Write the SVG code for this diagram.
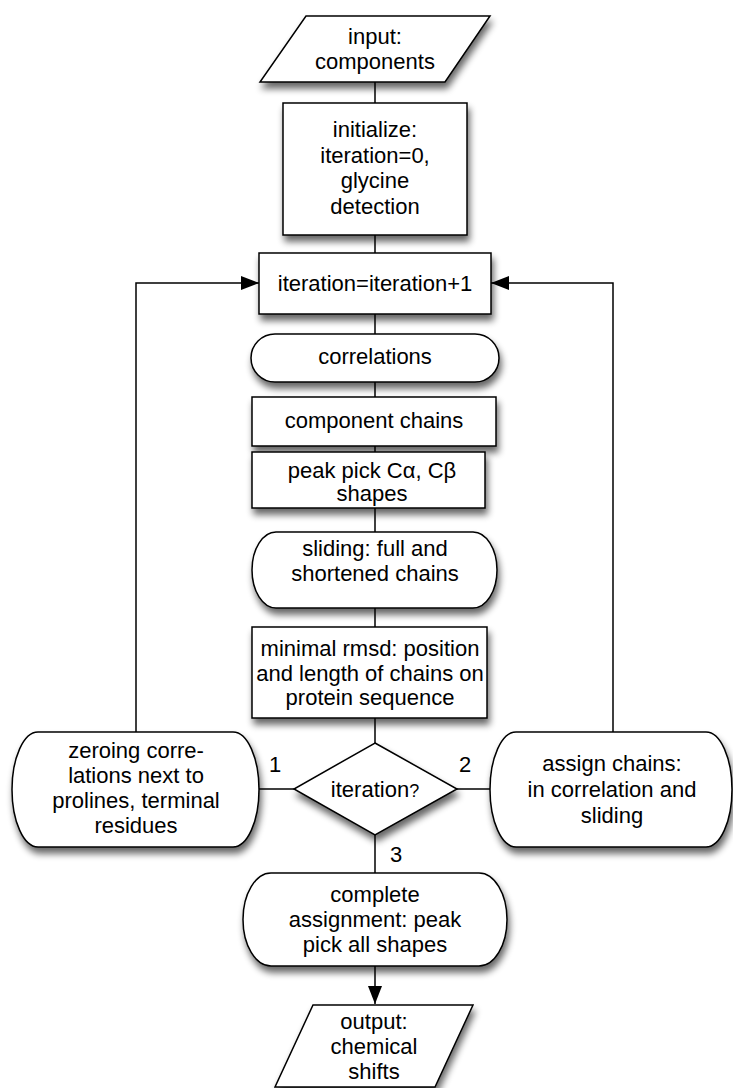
<svg xmlns="http://www.w3.org/2000/svg" width="733" height="1088" viewBox="0 0 733 1088">
  <defs>
    <filter id="shadow" x="-20%" y="-20%" width="140%" height="150%">
      <feGaussianBlur in="SourceAlpha" stdDeviation="3.5"/>
      <feOffset dx="2" dy="6" result="blur"/>
      <feComponentTransfer>
        <feFuncA type="linear" slope="0.6"/>
      </feComponentTransfer>
      <feMerge>
        <feMergeNode/>
        <feMergeNode in="SourceGraphic"/>
      </feMerge>
    </filter>
    <marker id="arrow" markerUnits="userSpaceOnUse" markerWidth="18" markerHeight="14" refX="18" refY="7" orient="auto">
      <path d="M0,0 L18,7 L0,14 Z" fill="#000"/>
    </marker>
    <style>
      .shape { fill: #fff; stroke: #000; stroke-width: 1.5; filter: url(#shadow); }
      .link { fill: none; stroke: #000; stroke-width: 1.5; }
      text { font-family: "Liberation Sans", Arial, Helvetica, sans-serif; font-size: 22px; fill: #000; text-anchor: middle; }
      .q { font-size: 18px; }
    </style>
  </defs>
  <rect width="733" height="1088" fill="#fff"/>

  <!-- connectors -->
  <g id="connectors">
    <line class="link" x1="375" y1="82" x2="375" y2="103"/>
    <line class="link" x1="375" y1="235" x2="375" y2="253"/>
    <line class="link" x1="375" y1="314" x2="375" y2="334"/>
    <line class="link" x1="375" y1="382" x2="375" y2="397"/>
    <line class="link" x1="375" y1="446" x2="375" y2="452"/>
    <line class="link" x1="375" y1="508" x2="375" y2="532"/>
    <line class="link" x1="375" y1="608" x2="375" y2="627"/>
    <line class="link" x1="375" y1="718" x2="375" y2="743"/>
    <line class="link" x1="375" y1="835" x2="375" y2="873"/>
    <line class="link" x1="375" y1="966" x2="375" y2="1004" marker-end="url(#arrow)"/>
    <line class="link" x1="259" y1="789" x2="294" y2="789"/>
    <line class="link" x1="457" y1="789" x2="490" y2="789"/>
    <polyline class="link" points="136,732 136,283 259,283" marker-end="url(#arrow)"/>
    <polyline class="link" points="613,732 613,283 491,283" marker-end="url(#arrow)"/>
    <text x="275" y="772">1</text>
    <text x="465" y="772">2</text>
    <text x="396" y="862">3</text>
  </g>

  <g id="input">
    <polygon class="shape" points="306,16 490,16 445,82 260,82"/>
    <text x="375" y="44">input:</text>
    <text x="375" y="69">components</text>
  </g>

  <g id="initialize">
    <rect class="shape" x="283" y="103" width="184" height="132"/>
    <text x="375" y="137">initialize:</text>
    <text x="375" y="163">iteration=0,</text>
    <text x="375" y="188">glycine</text>
    <text x="375" y="214">detection</text>
  </g>

  <g id="increment">
    <rect class="shape" x="259" y="253" width="232" height="61"/>
    <text x="375" y="291">iteration=iteration+1</text>
  </g>

  <g id="correlations">
    <rect class="shape" x="251" y="334" width="248" height="48" rx="24" ry="24"/>
    <text x="375" y="364">correlations</text>
  </g>

  <g id="component-chains">
    <rect class="shape" x="252" y="397" width="244" height="49"/>
    <text x="374" y="428">component chains</text>
  </g>

  <g id="peak-pick">
    <rect class="shape" x="252" y="452" width="233" height="56"/>
    <text x="372" y="478">peak pick Cα, Cβ</text>
    <text x="372" y="501">shapes</text>
  </g>

  <g id="sliding">
    <rect class="shape" x="252" y="532" width="245" height="76" rx="24" ry="38"/>
    <text x="375" y="556">sliding: full and</text>
    <text x="375" y="581">shortened chains</text>
  </g>

  <g id="rmsd">
    <rect class="shape" x="252" y="627" width="235" height="91"/>
    <text x="370" y="656">minimal rmsd: position</text>
    <text x="370" y="681">and length of chains on</text>
    <text x="370" y="705">protein sequence</text>
  </g>

  <g id="decision">
    <polygon class="shape" points="375,743 457,789 375,835 294,789"/>
    <text x="375" y="797">iteration<tspan class="q">?</tspan></text>
  </g>

  <g id="zeroing">
    <rect class="shape" x="12" y="732" width="247" height="115" rx="26" ry="57.5"/>
    <text x="136" y="758">zeroing corre-</text>
    <text x="136" y="783">lations next to</text>
    <text x="136" y="808">prolines, terminal</text>
    <text x="136" y="833">residues</text>
  </g>

  <g id="assign">
    <rect class="shape" x="490" y="732" width="242" height="115" rx="26" ry="57.5"/>
    <text x="612" y="771">assign chains:</text>
    <text x="612" y="797">in correlation and</text>
    <text x="612" y="823">sliding</text>
  </g>

  <g id="complete">
    <rect class="shape" x="243" y="873" width="264" height="93" rx="28" ry="46.5"/>
    <text x="375" y="902">complete</text>
    <text x="375" y="927">assignment: peak</text>
    <text x="375" y="952">pick all shapes</text>
  </g>

  <g id="output">
    <polygon class="shape" points="313,1005 473,1005 435,1087 275,1087"/>
    <text x="374" y="1029">output:</text>
    <text x="374" y="1054">chemical</text>
    <text x="374" y="1079">shifts</text>
  </g>
</svg>
